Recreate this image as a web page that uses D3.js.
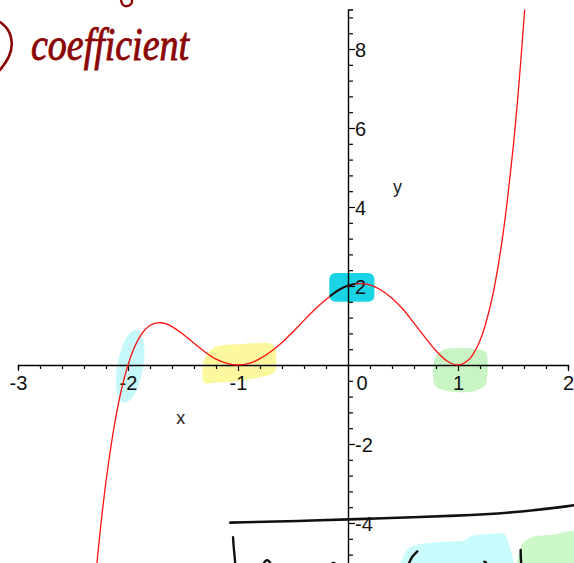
<!DOCTYPE html>
<html>
<head>
<meta charset="utf-8">
<script src="https://cdn.jsdelivr.net/npm/d3@7/dist/d3.min.js"></script>
<style>
  html, body { margin: 0; padding: 0; background: #fff; }
  svg { display: block; }
  .tick text { font-family: "Liberation Sans", Arial, sans-serif; }
</style>
</head>
<body>
<svg id="chart" width="574" height="563"></svg>
<script>
// Sampled points of the plotted curve y(x)
const curveX = [-2.30, -2.25, -2.20, -2.15, -2.10, -2.05, -2.00, -1.95, -1.90, -1.85,
                -1.80, -1.75, -1.70, -1.65, -1.60, -1.50, -1.40, -1.30, -1.20, -1.10,
                -1.00, -0.90, -0.80, -0.70, -0.60, -0.50, -0.40, -0.30, -0.20, -0.10,
                 0.00,  0.10,  0.20,  0.30,  0.40,  0.50,  0.60,  0.70,  0.80,  0.90,
                 1.00,  1.10,  1.20,  1.30,  1.40,  1.50,  1.55,  1.60,  1.62];
const curveY = [-5.52, -4.13, -2.95, -1.97, -1.16, -0.51,  0.00,  0.39,  0.68,  0.88,
                 1.00,  1.06,  1.07,  1.04,  0.97,  0.78,  0.55,  0.33,  0.15,  0.04,
                 0.00,  0.04,  0.16,  0.34,  0.57,  0.84,  1.13,  1.41,  1.66,  1.86,
                 2.00,  2.06,  2.03,  1.90,  1.69,  1.41,  1.06,  0.70,  0.36,  0.10,
                 0.00,  0.14,  0.62,  1.57,  3.13,  5.47,  6.98,  8.76,  9.55];

// Axis tick labels
const xTickLabels = [-3, -2, -1, 0, 1, 2];
const yTickLabels = [-4, -2, 2, 4, 6, 8];

const svg = d3.select("#chart");

const x = d3.scaleLinear().domain([-3, 2]).range([18, 568]);
const y = d3.scaleLinear().domain([-6, 9]).range([602, 9.5]);

// minor ticks: every 0.2 on x, every 0.4 on y
const xTicks = d3.range(-15, 11).map(k => +(k * 0.2).toFixed(1));
const yTicks = d3.range(-14, 23).map(k => +(k * 0.4).toFixed(1));

const lbl = d3.line().curve(d3.curveCardinalClosed.tension(0.2));
const toPx = pts => pts.map(p => [x(p[0]), y(p[1])]);

// ---- highlighter marks (drawn under the plot) ----
const hl = svg.append("g");

// cyan oval on the root at x = -2
hl.append("ellipse")
  .attr("cx", 0).attr("cy", 0).attr("rx", 13).attr("ry", 37)
  .attr("transform", `translate(${x(-1.98)},${y(-0.03)}) rotate(10)`)
  .attr("fill", "#c6f7f9");

// yellow patch on the minimum at x = -1
const yellowPts = [[-1.27, 0.32], [-1.18, 0.48], [-0.98, 0.53], [-0.72, 0.56], [-0.66, 0.38],
                   [-0.66, -0.15], [-0.78, -0.30], [-0.98, -0.40], [-1.20, -0.45], [-1.31, -0.44], [-1.32, 0.0]];
hl.append("path")
  .attr("d", lbl(toPx(yellowPts)))
  .attr("fill", "#fbf89e");

// cyan box on the intercept (0, 2)
hl.append("rect")
  .attr("x", x(-0.17)).attr("y", y(2.33))
  .attr("width", x(0.24) - x(-0.17)).attr("height", y(1.6) - y(2.33))
  .attr("rx", 6)
  .attr("fill", "#1ad3e5");

// green patch on the minimum at x = 1
const greenPts = [[0.80, 0.22], [0.88, 0.40], [1.05, 0.43], [1.24, 0.36], [1.27, 0.05],
                  [1.25, -0.50], [1.12, -0.68], [0.95, -0.68], [0.80, -0.55], [0.77, -0.15]];
hl.append("path")
  .attr("d", lbl(toPx(greenPts)))
  .attr("fill", "#c9f5c4");

// patches near the bottom edge
const cyanLow = [[0.50, -5.6], [0.51, -4.80], [0.62, -4.55], [0.85, -4.48], [1.05, -4.45],
                 [1.13, -4.32], [1.30, -4.28], [1.44, -4.36], [1.46, -5.6]];
hl.append("path")
  .attr("d", lbl(toPx(cyanLow)))
  .attr("fill", "#c8fbfb");
const greenLow = [[1.56, -5.6], [1.56, -4.70], [1.65, -4.38], [1.85, -4.30], [2.10, -4.28], [2.10, -5.6]];
hl.append("path")
  .attr("d", lbl(toPx(greenLow)))
  .attr("fill", "#cdf8c9");

// ---- axes ----
const fontFam = '"Liberation Sans", Arial, sans-serif';

const xAxis = d3.axisBottom(x)
  .tickValues(xTicks)
  .tickSizeOuter(0)
  .tickSize(4)
  .tickFormat(d => (xTickLabels.includes(d) && d !== 0) ? String(d) : "");

const gx = svg.append("g")
  .attr("transform", `translate(0,${y(0)})`)
  .call(xAxis);
gx.select(".domain").attr("stroke", "#000").attr("stroke-width", 1.4);
gx.selectAll(".tick line").attr("stroke", "#000").attr("stroke-width", 1.2)
  .attr("y2", d => Number.isInteger(d) ? 6 : 4);
gx.selectAll(".tick text")
  .attr("y", 25).attr("dy", null)
  .attr("font-size", 20).attr("font-family", fontFam)
  .attr("fill", "#111").attr("text-anchor", "middle");
// no tick where the y axis crosses
gx.selectAll(".tick").filter(d => d === 0).select("line").remove();

const yAxis = d3.axisRight(y)
  .tickValues(yTicks)
  .tickSizeOuter(0)
  .tickSize(5)
  .tickFormat(d => yTickLabels.includes(d) ? String(d) : "");

const gy = svg.append("g")
  .attr("transform", `translate(${x(0)},0)`)
  .call(yAxis);
gy.select(".domain").attr("stroke", "#000").attr("stroke-width", 1.4);
gy.selectAll(".tick line").attr("stroke", "#000").attr("stroke-width", 1.2)
  .attr("x2", d => Number.isInteger(d) ? 7 : 5);
gy.selectAll(".tick text")
  .attr("x", 7).attr("dy", "0.36em")
  .attr("font-size", 20).attr("font-family", fontFam)
  .attr("fill", "#111").attr("text-anchor", "start");
gy.selectAll(".tick").filter(d => d === 0).remove();

// origin label
svg.append("text")
  .attr("x", x(0) + 14).attr("y", y(0) + 25)
  .attr("text-anchor", "middle")
  .attr("font-size", 20).attr("font-family", fontFam).attr("fill", "#111")
  .text(String(xTickLabels[3]));

// axis names
svg.append("text")
  .attr("x", x(-1.52)).attr("y", y(-1.5))
  .attr("text-anchor", "middle")
  .attr("font-size", 18).attr("font-family", fontFam).attr("fill", "#222")
  .text("x");
svg.append("text")
  .attr("x", x(0.45)).attr("y", y(4.35))
  .attr("text-anchor", "middle")
  .attr("font-size", 18).attr("font-family", fontFam).attr("fill", "#222")
  .text("y");

// ---- the curve ----
svg.append("clipPath").attr("id", "plotClip")
  .append("rect")
  .attr("x", 0).attr("y", y(9))
  .attr("width", 574).attr("height", 563 - y(9));

const line = d3.line()
  .x((d, i) => x(curveX[i]))
  .y((d, i) => y(curveY[i]))
  .curve(d3.curveCatmullRom.alpha(0.5));

svg.append("path")
  .datum(curveX)
  .attr("clip-path", "url(#plotClip)")
  .attr("d", line)
  .attr("fill", "none")
  .attr("stroke", "#ff1010")
  .attr("stroke-width", 1.3);

// ---- pen annotations ----
const pen = d3.line().curve(d3.curveBasis);

// trace over the curve at the intercept
svg.append("path")
  .attr("d", pen(toPx([[-0.16, 1.75], [-0.08, 1.92], [0.0, 2.02], [0.06, 2.05]])))
  .attr("fill", "none").attr("stroke", "#111").attr("stroke-width", 2)
  .attr("stroke-linecap", "round");

// long stroke near y = -4
svg.append("path")
  .attr("d", pen(toPx([[-1.07, -3.99], [-0.3, -3.94], [0.3, -3.88], [1.0, -3.82], [1.6, -3.72], [2.06, -3.55]])))
  .attr("fill", "none").attr("stroke", "#111").attr("stroke-width", 2.6)
  .attr("stroke-linecap", "round");

// fragments of writing along the bottom edge
const strokes = [
  [[-1.045, -4.36], [-1.04, -4.6], [-1.03, -4.85], [-1.025, -5.05]],
  [[-0.77, -5.05], [-0.755, -4.95], [-0.72, -4.93], [-0.70, -5.05]],
  [[-0.15, -5.05], [-0.135, -4.98], [-0.11, -5.05]],
  [[0.63, -4.72], [0.58, -4.85], [0.55, -5.05]],
  [[1.24, -4.98], [1.26, -5.0], [1.25, -5.05]],
  [[1.57, -4.68], [1.57, -4.85], [1.575, -5.05]]
];
strokes.forEach(s => {
  svg.append("path")
    .attr("d", pen(toPx(s)))
    .attr("fill", "none").attr("stroke", "#111").attr("stroke-width", 2.4)
    .attr("stroke-linecap", "round");
});

// red handwriting in the corner
const red = "#8b0505";
svg.append("path")
  .attr("d", pen([[0, 22], [8, 28], [13, 42], [10, 57], [0, 70]]))
  .attr("fill", "none").attr("stroke", red).attr("stroke-width", 2.6)
  .attr("stroke-linecap", "round");
svg.append("path")
  .attr("d", pen([[121, 0], [122, 5], [127, 7], [132, 4], [132, 0]]))
  .attr("fill", "none").attr("stroke", red).attr("stroke-width", 2.4)
  .attr("stroke-linecap", "round");
svg.append("text")
  .attr("x", 31).attr("y", 60)
  .attr("font-family", '"Liberation Serif", "DejaVu Serif", serif')
  .attr("font-style", "italic")
  .attr("font-size", 46)
  .attr("textLength", 158)
  .attr("lengthAdjust", "spacingAndGlyphs")
  .attr("fill", red)
  .attr("stroke", red)
  .attr("stroke-width", 0.9)
  .text("coefficient");
</script>
</body>
</html>
